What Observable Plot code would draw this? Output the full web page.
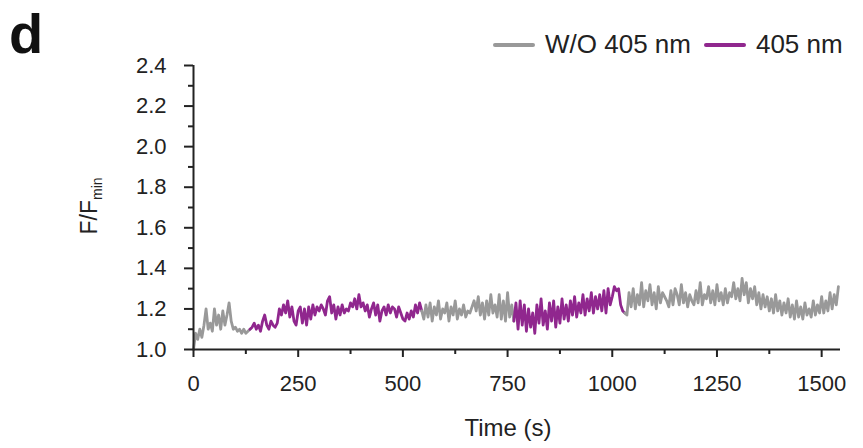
<!DOCTYPE html>
<html>
<head>
<meta charset="utf-8">
<script src="https://cdn.jsdelivr.net/npm/d3@7"></script>
<script src="https://cdn.jsdelivr.net/npm/@observablehq/plot@0.6"></script>
<style>
  html, body { margin: 0; padding: 0; background: #fff; }
  body { width: 863px; height: 448px; overflow: hidden; font-family: "Liberation Sans", Arial, sans-serif; color: #222; }
  #header { position: relative; width: 863px; height: 60px; }
  #panel { position: absolute; left: 9px; top: 6px; font-size: 56px; line-height: 56px; font-weight: bold; color: #111; }
  #legend { position: absolute; left: 493px; top: 29px; display: flex; align-items: center; font-size: 26px; white-space: nowrap; }
  .sw { display: inline-block; width: 42px; height: 4px; border-radius: 2px; margin-right: 10px; }
  .item { display: flex; align-items: center; margin-right: 13px; }
  svg { display: block; overflow: visible; }
</style>
</head>
<body>
<div id="header">
  <div id="panel">d</div>
  <div id="legend"></div>
</div>
<div id="chart"></div>
<script>
// Sampling interval of the trace (s)
const DT = 5;
// Conditions and colours
const conditions = ["W/O 405 nm", "405 nm"];
const colors = ["#999999", "#90278e"];
// Segment start times (s) and which condition each segment belongs to
const segmentStarts = [0, 135, 545, 765, 1030];
const segmentCondition = ["W/O 405 nm", "405 nm", "W/O 405 nm", "405 nm", "W/O 405 nm"];
// F/Fmin values per segment
const grayA = [1.00, 1.08, 1.05, 1.10, 1.06, 1.12, 1.20, 1.10, 1.13, 1.09, 1.20, 1.12, 1.17, 1.10, 1.19, 1.12, 1.17, 1.23, 1.14, 1.10, 1.11, 1.09, 1.10, 1.08, 1.10, 1.08, 1.09, 1.10];
const purpleA = [1.10, 1.11, 1.13, 1.10, 1.12, 1.09, 1.14, 1.17, 1.12, 1.10, 1.14, 1.12, 1.11, 1.13,
  1.20, 1.17, 1.22, 1.18, 1.24, 1.16, 1.21, 1.14, 1.12, 1.19,
  1.21, 1.13, 1.20, 1.12, 1.21, 1.15, 1.22, 1.17, 1.21, 1.19, 1.22, 1.20, 1.17, 1.24,
  1.26, 1.18, 1.22, 1.15, 1.21, 1.17, 1.22, 1.18, 1.20, 1.19, 1.23, 1.21, 1.25, 1.20, 1.27,
  1.21, 1.23, 1.19, 1.22, 1.16, 1.20, 1.23, 1.17, 1.22, 1.14, 1.19, 1.21, 1.17, 1.22, 1.18, 1.21, 1.20, 1.16, 1.21, 1.18, 1.15, 1.14, 1.18, 1.15, 1.19, 1.16, 1.22, 1.18, 1.23, 1.19];
const grayB = [1.19, 1.15, 1.22, 1.16, 1.23, 1.14, 1.21, 1.17, 1.24, 1.15, 1.20, 1.18, 1.23, 1.14, 1.21, 1.17, 1.24, 1.15, 1.20, 1.17, 1.22, 1.16, 1.19, 1.18, 1.21, 1.24, 1.19, 1.26, 1.17, 1.23, 1.15, 1.24, 1.17, 1.27, 1.18, 1.22, 1.16, 1.27, 1.15, 1.24, 1.14, 1.28, 1.16, 1.22, 1.14];
const purpleB = [1.14, 1.23, 1.10, 1.24, 1.12, 1.22, 1.09, 1.20, 1.11, 1.18, 1.08, 1.22, 1.13, 1.25, 1.12, 1.19, 1.10, 1.23, 1.14, 1.24, 1.11, 1.21, 1.13, 1.25, 1.15, 1.22, 1.14, 1.24, 1.17, 1.26, 1.16, 1.23, 1.18, 1.27, 1.17, 1.25, 1.19, 1.28, 1.18, 1.26, 1.20, 1.27, 1.19, 1.29, 1.18, 1.30, 1.22, 1.26, 1.31, 1.29, 1.30, 1.22, 1.19, 1.18];
const grayC = [1.18, 1.17, 1.28, 1.21, 1.30, 1.20, 1.27, 1.22, 1.33, 1.21, 1.29, 1.24, 1.32, 1.22, 1.28, 1.20, 1.31, 1.23, 1.28, 1.26, 1.24, 1.21, 1.29, 1.22, 1.30, 1.27, 1.22, 1.32, 1.23, 1.28, 1.21, 1.27, 1.24, 1.22, 1.29, 1.23, 1.33, 1.22, 1.27, 1.25, 1.31, 1.23, 1.29, 1.22, 1.32, 1.24, 1.28, 1.22, 1.30, 1.23, 1.28, 1.26, 1.33, 1.25, 1.30, 1.24, 1.35, 1.27, 1.33, 1.23, 1.30, 1.25, 1.31, 1.22, 1.28, 1.20, 1.27, 1.21, 1.26, 1.19, 1.25, 1.18, 1.27, 1.19, 1.24, 1.17, 1.23, 1.18, 1.25, 1.16, 1.22, 1.15, 1.24, 1.16, 1.21, 1.15, 1.23, 1.17, 1.20, 1.16, 1.24, 1.17, 1.22, 1.18, 1.26, 1.18, 1.24, 1.19, 1.28, 1.20, 1.27, 1.22, 1.31];
const segmentValues = [grayA, purpleA, grayB, purpleB, grayC];
// Axis ticks
const xTicks = [0, 250, 500, 750, 1000, 1250, 1500];
const xMinorTicks = [125, 375, 625, 875, 1125, 1375];
const yTicks = [1.0, 1.2, 1.4, 1.6, 1.8, 2.0, 2.2, 2.4];
const yMinorTicks = [1.1, 1.3, 1.5, 1.7, 1.9, 2.1, 2.3];

const data = [];
segmentValues.forEach((vals, s) => {
  vals.forEach((v, i) => data.push({t: segmentStarts[s] + i * DT, v, seg: s, cond: segmentCondition[s]}));
});

const axisColor = "#222";
const plot = Plot.plot({
  width: 863,
  height: 388,
  marginLeft: 193,
  marginRight: 23,
  marginTop: 5,
  marginBottom: 99,
  style: {fontFamily: "'Liberation Sans', Arial, sans-serif", color: axisColor, overflow: "visible"},
  x: {domain: [0, 1545]},
  y: {domain: [1.0, 2.4]},
  color: {domain: conditions, range: colors},
  marks: [
    Plot.line(data, {x: "t", y: "v", z: "seg", stroke: "cond", strokeWidth: 2.8, strokeLinejoin: "round"}),
    Plot.ruleY([1.0], {stroke: axisColor, strokeWidth: 2}),
    Plot.ruleX([0], {y1: 1.0, y2: 2.4, stroke: axisColor, strokeWidth: 2}),
    Plot.axisX({ticks: xTicks, tickSize: 8, tickPadding: 18, tickFormat: d => String(d), fontSize: 22, stroke: axisColor, strokeWidth: 2, label: null}),
    Plot.axisX({ticks: xMinorTicks, tickSize: 5, tickFormat: null, text: null, stroke: axisColor, strokeWidth: 2, label: null}),
    Plot.axisY({ticks: yTicks, tickSize: 9, tickPadding: 18, tickFormat: d3.format(".1f"), fontSize: 22, stroke: axisColor, strokeWidth: 2, label: null}),
    Plot.axisY({ticks: yMinorTicks, tickSize: 5, tickFormat: null, text: null, stroke: axisColor, strokeWidth: 2, label: null})
  ]
});
document.getElementById("chart").appendChild(plot);

const svg = d3.select(plot);
// x axis title
svg.append("text")
  .attr("x", 508).attr("y", 376)
  .attr("text-anchor", "middle")
  .attr("font-size", 24)
  .attr("fill", axisColor)
  .text("Time (s)");
// y axis title F/Fmin
const yl = svg.append("text")
  .attr("transform", "translate(97,146) rotate(-90)")
  .attr("text-anchor", "middle")
  .attr("font-size", 23)
  .attr("fill", axisColor);
yl.append("tspan").text("F/F");
yl.append("tspan").attr("font-size", 14).attr("dy", 5).text("min");

// legend
const legend = d3.select("#legend");
conditions.forEach((c, i) => {
  const item = legend.append("div").attr("class", "item");
  item.append("span").attr("class", "sw").style("background", colors[i]);
  item.append("span").text(c);
});
</script>
</body>
</html>
